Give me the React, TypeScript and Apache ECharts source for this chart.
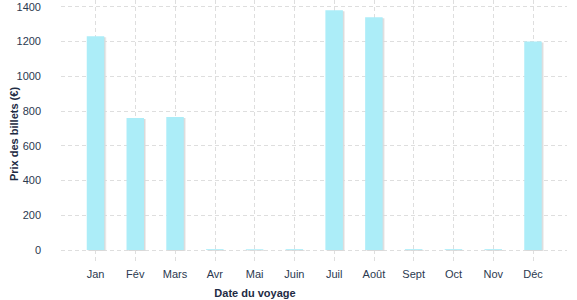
import React, { useEffect, useRef } from "react";
import * as echarts from "echarts";

const months = ["Jan", "Fév", "Mars", "Avr", "Mai", "Juin", "Juil", "Août", "Sept", "Oct", "Nov", "Déc"];
const prices = [1230, 760, 765, 5, 5, 5, 1380, 1340, 5, 5, 5, 1200];
const yTicks = [0, 200, 400, 600, 800, 1000, 1200, 1400];

const FONT = "'Liberation Sans', Arial, sans-serif";
const TEXT = "#2b3950";
const GRID = "#dedede";

export default function App() {
  const ref = useRef<HTMLDivElement>(null);
  useEffect(() => {
    if (!ref.current) return;
    const chart = echarts.init(ref.current, null, { renderer: "svg" });
    const yMax = yTicks[yTicks.length - 1];
    const plotTop = 6.7;
    const plotBottom = 50;
    const plotH = 300 - plotTop - plotBottom;
    const barMax = (yMax * (plotH + plotTop)) / plotH;
    chart.setOption({
      animation: false,
      grid: [
        { left: 61, right: 10, top: plotTop, bottom: plotBottom },
        { left: 95.5, right: 44, top: 0, bottom: plotBottom },
      ],
      xAxis: [
        { type: "value", gridIndex: 0, show: false, min: 0, max: 1 },
        {
          type: "category",
          gridIndex: 1,
          data: months,
          boundaryGap: false,
          axisLine: { show: false },
          axisTick: { show: true, length: 13, lineStyle: { color: GRID, type: [4, 3] } },
          axisLabel: { margin: 18, color: TEXT, fontSize: 11, fontFamily: FONT },
          splitLine: { show: true, lineStyle: { color: GRID, type: [4, 3] } },
        },
      ],
      yAxis: [
        {
          type: "value",
          gridIndex: 0,
          min: 0,
          max: yMax,
          interval: 200,
          axisLine: { show: false },
          axisTick: { show: false },
          axisLabel: {
            margin: 20,
            color: TEXT,
            fontSize: 11,
            fontFamily: FONT,
            formatter: (v: number) => String(v),
          },
          splitLine: { show: true, lineStyle: { color: GRID, type: [4, 3] } },
        },
        { type: "value", gridIndex: 1, min: 0, max: barMax, show: false },
      ],
      graphic: [
        {
          type: "text",
          x: 255,
          y: 293,
          style: {
            text: "Date du voyage",
            fill: "#1e2b44",
            font: `bold 11px ${FONT}`,
            textAlign: "center",
            textVerticalAlign: "middle",
          },
        },
        {
          type: "text",
          x: 14,
          y: 134,
          rotation: Math.PI / 2,
          style: {
            text: "Prix des billets (€)",
            fill: "#1e2b44",
            font: `bold 11px ${FONT}`,
            textAlign: "center",
            textVerticalAlign: "middle",
          },
        },
      ],
      series: [
        {
          type: "bar",
          xAxisIndex: 1,
          yAxisIndex: 1,
          data: prices,
          barWidth: 17.5,
          itemStyle: {
            color: "#acedf8",
            shadowColor: "#d9d9d9",
            shadowOffsetX: 1.5,
            shadowOffsetY: 1,
            shadowBlur: 0,
          },
        },
      ],
    });
    return () => chart.dispose();
  }, []);
  return <div ref={ref} style={{ width: 577, height: 300, position: "absolute", left: 0, top: 0 }} />;
}
